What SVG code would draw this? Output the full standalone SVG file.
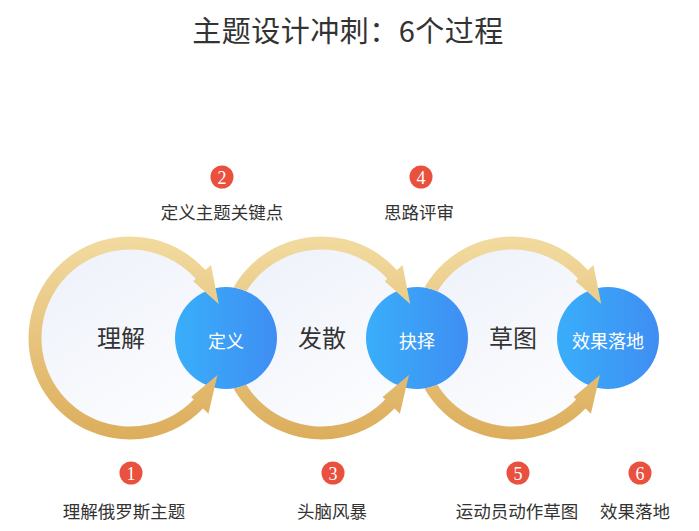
<svg xmlns="http://www.w3.org/2000/svg" width="699" height="531" viewBox="0 0 699 531">
<style>
text{font-family:"Noto Sans CJK SC","Noto Sans",sans-serif;}
.title{font-size:29px;fill:#333;text-anchor:middle;letter-spacing:0.5px;}
.lbl{font-size:17.5px;fill:#333;text-anchor:middle;}
.big{font-size:24px;fill:#333;text-anchor:middle;}
.wt{font-size:18px;fill:#fff;text-anchor:middle;}
.ring{fill:url(#ringFill);}
.blue{fill:url(#blueFill);}
.arc{fill:url(#gold);}
.badge circle{fill:#e9503e;}
.badge text{font-family:"Liberation Serif",serif;font-size:18px;fill:#fff;text-anchor:middle;}
</style>
<defs>
<linearGradient id="gold" gradientUnits="userSpaceOnUse" x1="0" y1="236" x2="0" y2="441">
<stop offset="0" stop-color="#f2dba0"/>
<stop offset="1" stop-color="#dcad5b"/>
</linearGradient>
<linearGradient id="ringFill" x1="0" y1="0" x2="0.6" y2="1">
<stop offset="0" stop-color="#edf1fa"/>
<stop offset="1" stop-color="#fbfcfe"/>
</linearGradient>
<linearGradient id="blueFill" x1="0" y1="0" x2="1" y2="0">
<stop offset="0" stop-color="#39aefa"/>
<stop offset="1" stop-color="#3f8ef3"/>
</linearGradient>
<clipPath id="c2"><path clip-rule="evenodd" d="M0,0H699V531H0Z M175,338a51,51 0 1,0 102,0a51,51 0 1,0 -102,0Z"/></clipPath>
<clipPath id="c3"><path clip-rule="evenodd" d="M0,0H699V531H0Z M366,338a51,51 0 1,0 102,0a51,51 0 1,0 -102,0Z"/></clipPath>
</defs>
<rect width="699" height="531" fill="#fff"/>
<text class="title" x="348" y="42">主题设计冲刺：6个过程</text>

<g id="stage-lijie"><circle class="ring" cx="130" cy="338" r="89"/><text class="big" x="121" y="347">理解</text></g>
<g id="stage-fasan"><circle class="ring" cx="321.5" cy="338" r="89"/><text class="big" x="322" y="347">发散</text></g>
<g id="stage-caotu"><circle class="ring" cx="512.5" cy="338" r="89"/><text class="big" x="513" y="347">草图</text></g>

<g id="node-dingyi"><circle class="blue" cx="226" cy="338" r="51"/><text class="wt" x="226" y="348">定义</text></g>
<g id="node-jueze"><circle class="blue" cx="417" cy="338" r="51"/><text class="wt" x="417" y="348">抉择</text></g>
<g id="node-xiaoguo"><circle class="blue" cx="608" cy="338" r="51"/><text class="wt" x="608" y="348">效果落地</text></g>

<g id="connectors">
<path class="arc" d="M28.5,338 A101.5,101.5 0 0 1 205.43,270.08 L211,265.07 L218.69,303.95 L193.16,281.13 L195.76,278.78 A88.5,88.5 0 0 0 41.5,338 Z"/>
<path class="arc" d="M28.5,338 A101.5,101.5 0 0 0 203.01,408.51 L208.4,413.72 L217.45,375.12 L191.14,397.05 L193.66,399.48 A88.5,88.5 0 0 1 41.5,338 Z"/>
<g clip-path="url(#c2)">
<path class="arc" d="M220,338 A101.5,101.5 0 0 1 396.93,270.08 L402.5,265.07 L410.19,303.95 L384.66,281.13 L387.26,278.78 A88.5,88.5 0 0 0 233,338 Z"/>
<path class="arc" d="M220,338 A101.5,101.5 0 0 0 394.51,408.51 L399.9,413.72 L408.95,375.12 L382.64,397.05 L385.16,399.48 A88.5,88.5 0 0 1 233,338 Z"/>
</g>
<g clip-path="url(#c3)">
<path class="arc" d="M411,338 A101.5,101.5 0 0 1 587.93,270.08 L593.5,265.07 L601.19,303.95 L575.66,281.13 L578.26,278.78 A88.5,88.5 0 0 0 424,338 Z"/>
<path class="arc" d="M411,338 A101.5,101.5 0 0 0 585.51,408.51 L590.9,413.72 L599.95,375.12 L573.64,397.05 L576.16,399.48 A88.5,88.5 0 0 1 424,338 Z"/>
</g>
</g>

<g id="step1" class="badge"><circle cx="131" cy="473" r="11.5"/><text x="131" y="479.5">1</text></g>
<text class="lbl" x="124" y="518">理解俄罗斯主题</text>
<g id="step2" class="badge"><circle cx="222" cy="177" r="11.5"/><text x="222" y="183.5">2</text></g>
<text class="lbl" x="222" y="219">定义主题关键点</text>
<g id="step3" class="badge"><circle cx="333" cy="473" r="11.5"/><text x="333" y="479.5">3</text></g>
<text class="lbl" x="332" y="518">头脑风暴</text>
<g id="step4" class="badge"><circle cx="421" cy="177" r="11.5"/><text x="421" y="183.5">4</text></g>
<text class="lbl" x="419" y="219">思路评审</text>
<g id="step5" class="badge"><circle cx="518" cy="473" r="11.5"/><text x="518" y="479.5">5</text></g>
<text class="lbl" x="517" y="518">运动员动作草图</text>
<g id="step6" class="badge"><circle cx="640" cy="473" r="11.5"/><text x="640" y="479.5">6</text></g>
<text class="lbl" x="635" y="518">效果落地</text>
</svg>
